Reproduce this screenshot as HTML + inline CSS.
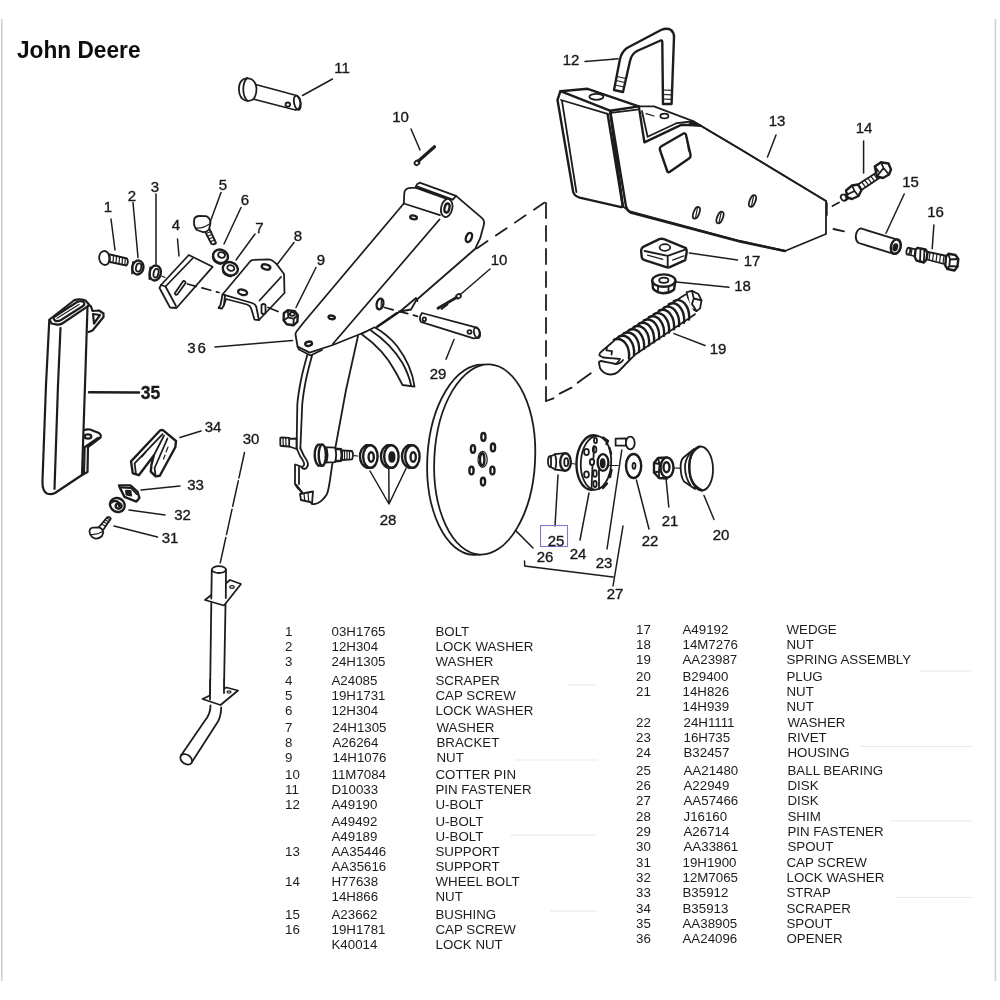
<!DOCTYPE html>
<html><head><meta charset="utf-8"><title>John Deere</title>
<style>
html,body{margin:0;padding:0;background:#fff;}
body{width:1000px;height:1000px;overflow:hidden;position:relative;font-family:"Liberation Sans",sans-serif;}
svg{position:absolute;left:0;top:0;}
.t text{font-family:"Liberation Sans",sans-serif;font-size:13.3px;fill:#1c1c1c;}
.l text{font-family:"Liberation Sans",sans-serif;font-size:15px;fill:#1a1a1a;text-anchor:middle;stroke:#1a1a1a;stroke-width:0.35;}
.d{fill:none;stroke:#1e1e1e;stroke-width:1.8;stroke-linecap:round;stroke-linejoin:round;}
.d .w{fill:#fff;}
.d .k{fill:#1e1e1e;}
.d .h{stroke-width:2.4;}
.d .n{stroke-width:1.2;}
.d .ds{stroke-dasharray:9 6;}
.ld{fill:none;stroke:#1e1e1e;stroke-width:1.5;stroke-linecap:round;}
</style></head><body>
<svg width="1000" height="1000" viewBox="0 0 1000 1000">
<rect x="0" y="0" width="1000" height="1000" fill="#fff"/>
<rect x="1" y="19" width="1.6" height="962" fill="#cfcfcf"/>
<rect x="994.6" y="19" width="1.6" height="962" fill="#cfcfcf"/>
<text filter="url(#b2)" x="17" y="57.6" font-family="Liberation Sans, sans-serif" font-weight="bold" font-size="24.4" fill="#111" textLength="123.5" lengthAdjust="spacingAndGlyphs">John Deere</text>
<defs><filter id="b" x="-2%" y="-2%" width="104%" height="104%"><feGaussianBlur stdDeviation="0.55"/></filter><filter id="b2" x="-2%" y="-2%" width="104%" height="104%"><feGaussianBlur stdDeviation="0.4"/></filter></defs>
<g filter="url(#b)">
<g class="d">
<!-- 35 spout -->
<g style="stroke-width:2.2">
<path d="M49.3,320 L46,385 L42.5,480 Q42,491 47,493.5 Q51,495 55,493 L82,475 L85,385 L87.5,306.5"/>
<path d="M49.5,319.5 L74.5,300 Q80,298.5 85.5,300.5 L89,304.5 L87.3,306.7 L63,323 Q60,325 57,324.6 L51.5,323.5 Z"/>
<path d="M60.5,328 L58,385 L54.5,489"/>
<path d="M54,317 L77,302 Q81,300.5 83.5,302 Q85.5,304 83,306 L61,320 Q57,322 55,320.5 Q53,319 54,317 Z"/>
<path class="n" d="M57,318.3 L79,304.5"/>
<path d="M89,305 L91,306.5 L92.5,311 L99,310.5 L103.5,313.5 L103.5,317 L92.5,330.5 L88.5,332"/>
<path d="M93,314 L100,315 L94,323.5 Z"/>
<path d="M84,430 Q87,429 90,429.5 L99,433 Q101.5,435 100.5,437.5 L88,447 L87.5,472 L82,475"/>
<path d="M85,447 L98,438 M84.6,448 L84,474"/>
<ellipse cx="88" cy="436.5" rx="3.3" ry="2.2"/>
<path class="h" d="M89,392.3 L139,392.5"/>
</g>
<!-- 1 bolt -->
<g>
<path d="M110,254.5 L127,258.5 Q129,262 126.5,265.5 L110,262"/>
<path class="n" d="M113.5,255.5 L113,262.5 M116.5,256 L116,263.3 M119.5,256.8 L119,264 M122.5,257.5 L122,264.6 M125.3,258.2 L124.8,265.2"/>
<ellipse class="w" cx="104.6" cy="258" rx="5.4" ry="7" transform="rotate(-8 104.6 258)"/>
<path class="n" d="M107.5,252.5 Q110.5,258 107.8,264"/>
</g>
<!-- 2 lock washer -->
<g>
<ellipse class="w h" cx="137.8" cy="267.5" rx="5.6" ry="7" transform="rotate(12 137.8 267.5)"/>
<ellipse cx="138.6" cy="267.5" rx="2.6" ry="4.2" transform="rotate(12 138.6 267.5)"/>
<path d="M133,262 L132,273.5"/>
</g>
<!-- 3 washer -->
<g>
<ellipse class="w h" cx="155.2" cy="273" rx="5.6" ry="7.6" transform="rotate(12 155.2 273)"/>
<ellipse cx="156" cy="273.2" rx="2.4" ry="4.4" transform="rotate(12 156 273.2)"/>
<path d="M150.2,267.5 L149.4,279"/>
<path class="n" d="M161.5,276 L165,277.5"/>
</g>
<!-- 4 scraper -->
<g>
<path class="w" d="M188.8,255 L212.6,266.8 L176.5,308 L170,307.5 L159.5,288 L161,285 Z"/>
<path d="M192.5,258.5 L165.5,286.5 L176,306"/>
<path d="M161,285 L165.5,286.5"/>
<path d="M183.3,281 Q185.6,280.8 185.6,283 L177.3,294.5 Q175.3,295.3 174.8,293.3 Z"/>
</g>
<!-- 5 cap screw -->
<g>
<path d="M204.5,230.5 L211.5,244 Q214,245 216,243 L209.5,229"/>
<path class="n" d="M206,233.5 L211,231.5 M207.4,236.3 L212.3,234.3 M208.8,239 L213.6,237 M210.2,241.7 L214.8,239.7"/>
<path class="w" d="M194,221 Q194,216.5 199,216 L206,216.2 Q210.5,218 210.5,223 L209,229.5 Q206.5,232.5 202.5,232 L197,230 Q193.5,226.5 194,221 Z"/>
<path class="n" d="M196,228 Q202,229 209.5,224"/>
</g>
<!-- 6 lock washer -->
<g>
<ellipse class="w h" cx="220.5" cy="256.3" rx="7.6" ry="6.6" transform="rotate(18 220.5 256.3)"/>
<ellipse cx="221.6" cy="255" rx="3.5" ry="2.7" transform="rotate(18 221.6 255)"/>
<path d="M213,254 L213.5,260 Q216,263.5 221,264"/>
</g>
<!-- 7 washer -->
<g>
<ellipse class="w h" cx="230.3" cy="268.8" rx="7.6" ry="6.6" transform="rotate(18 230.3 268.8)"/>
<ellipse cx="230.8" cy="268" rx="3.6" ry="2.8" transform="rotate(18 230.8 268)"/>
<path d="M222.8,267 L223.2,272.5 Q226,276 231,276.5"/>
</g>
<!-- dashed 4-8 -->
<path class="ds" d="M187.5,284 L219,292.5"/>
<!-- 8 bracket -->
<g>
<path class="w" d="M250.5,261 Q252,259.8 254,259.8 L269,259.3 Q272,259.5 276.5,264 L284,274 L284.5,293 L259,320 L254.5,319.6 L251,308 Q250,305.5 247,304.5 L226,299 L224,305 L222,308.5 L218.5,308 L220.5,305 L222.5,294.5 Z"/>
<path d="M222.5,294.5 L225,295.2 L252,303 Q255.5,304 256.3,307 L259,320"/>
<path d="M225,295.2 L224,305"/>
<path d="M281,277 L259.5,300.5"/>
<ellipse class="h" cx="266" cy="267" rx="4.4" ry="2.4" transform="rotate(15 266 267)"/>
<ellipse class="h" cx="242.6" cy="292.3" rx="4.6" ry="2.6" transform="rotate(15 242.6 292.3)"/>
<path class="w" d="M261.5,305 Q263.5,303 265.5,305 L265.5,313 Q263.5,315 261.5,313 Z"/>
</g>
<path d="M268,307.5 L278,311.5"/>
<!-- 9 nut -->
<g transform="translate(0.8 1.3) scale(1)">
<path class="w h" d="M283,312 L287,309 L294,310 L297,314 L296.5,320.5 L292.5,324 L286,323 L282.8,319 Z"/>
<path d="M287,309 L287.5,316 L283,319 M287.5,316 L293,317.5 L292.5,324 M293,317.5 L297,314"/>
<ellipse cx="291.5" cy="312.8" rx="2.6" ry="1.7"/>
</g>
<!-- 34 scraper (V) -->
<g>
<path class="w h" d="M160,430.5 Q161.6,429.6 163.2,430.4 L176,441 L175.4,447 L159.8,475.8 L155.6,476.4 L150.8,471.6 L151.4,465 L153.8,455.5 L138.8,475.2 L132.8,473.4 L131,461.4 Z"/>
<path d="M134.6,463.4 L162.6,434.2 M134.6,463.4 L136,474.2"/>
<path d="M153.8,455.5 L164,435.6"/>
<path d="M154.6,468 L167.5,438.5 M154.6,468 L155.6,476"/>
<path class="n" d="M146,452 L142,457 M168,447 L166,452 M165,455 L163.5,459"/>
</g>
<!-- 33 strap -->
<g>
<path class="w h" d="M119,485.4 L130.4,485.4 L137.6,492 L139.4,498 L136.4,501.6 L124.4,496.8 L120.2,488.4 Z"/>
<path class="k" d="M126,490.6 L130.6,491 L131.2,495.6 L126.4,494.6 Z"/>
<path d="M121.5,487.5 L131,488 L136.5,494"/>
</g>
<!-- 32 lock washer -->
<g>
<ellipse class="w h" cx="117.4" cy="505" rx="7.6" ry="6.8" transform="rotate(30 117.4 505)"/>
<ellipse class="h" cx="118.6" cy="506" rx="3" ry="2.7"/>
<path class="h" d="M111.5,502.5 Q113.5,500 117.5,501.5 Q120,503 119,506"/>
</g>
<!-- 31 cap screw -->
<g>
<path d="M99,527 L107,517.5 Q109.5,516 110.8,518.5 L103.5,529.5"/>
<path class="n" d="M101.5,524 L105.8,526.2 M103.3,521.8 L107.5,524 M105,519.8 L109,522 M106.6,518 L110.5,520"/>
<path class="w" d="M89.5,531.5 Q89.5,528 93,527.6 L99.5,527.5 Q103,529 103.3,532.5 L102,536 Q99,539 95,538.5 Q90,537 89.5,531.5 Z"/>
<path class="n" d="M90.5,534.5 Q96,535.5 102.8,531.5"/>
</g>
<!-- 30 spout tube -->
<g>
<path class="w" d="M205,600 L230,580 L241,584 L224,605.5 Z"/>
<ellipse class="n" cx="232" cy="587" rx="2.2" ry="1.4"/>
<path class="w" d="M211.8,570 L211.3,599 Q218,603 225.8,598.5 L226,570 Z" stroke="none"/>
<path d="M211.8,570 L211.3,598.5 M226,570 L225.8,598"/>
<ellipse class="w" cx="218.9" cy="569.6" rx="7.1" ry="3.4"/>
<path d="M211.3,603 L210,699 M225.5,604.5 L224,688"/>
<path class="w" d="M202.5,699 L226.5,687.5 L238,690.5 L220.5,705 Z"/>
<path class="w" d="M210.2,680 L210,700 L224,700 L224,680 Z" stroke="none"/>
<path d="M210.2,680 L210,699.5 M224,680 L224,693"/>
<ellipse class="n" cx="229" cy="692" rx="2" ry="1.2"/>
<path d="M210.5,705.5 Q210.5,714 205,720.5 L181,755.5 M221.2,707.5 Q221,716 218,721.5 L191.3,763"/>
<ellipse class="w" cx="186.2" cy="759.3" rx="6.4" ry="4.6" transform="rotate(35 186.2 759.3)"/>
</g>
<!-- 11 pin fastener -->
<g>
<path class="w" d="M252,83.5 L296.5,95.5 Q300.5,97 300.5,103 Q300,109.5 295.5,110 L251,98.5 Z"/>
<ellipse cx="297.3" cy="102.8" rx="3.2" ry="7.2" transform="rotate(-12 297.3 102.8)"/>
<ellipse cx="287.8" cy="104.6" rx="2.3" ry="2.1"/>
<path class="w" d="M243,79.5 Q247,77.5 251,79 Q255.5,81 256.5,88 Q256.5,96 253,99.5 Q249.5,101.5 245.5,100.5 Q239.5,98.5 239,90.5 Q238.5,82.5 243,79.5 Z"/>
<path d="M247,78 Q243,82 243.3,90.5 Q243.8,97.5 247.5,100.8"/>
</g>
<!-- 10 cotter pin (upper) -->
<g>
<path d="M418.5,161 L434.5,146.8" style="stroke-width:3.2"/>
<ellipse cx="417" cy="162.8" rx="2.6" ry="2.1" transform="rotate(-40 417 162.8)"/>
</g>
<!-- 36 opener arm -->
<g>
<path class="w" d="M295.4,334 L296.5,331.5 L304,322 L403.8,203.5 L404.3,193.1 Q404.8,189 408.7,188.2 L415.3,187.6 L417,184.3 L419.7,182.7 L456,195.9 L481.5,217.6 Q485,220.5 483.8,225 L480.2,238.2 L475.3,248.7 L416.4,300 L411,309.5 L400,311.5 L377,327 L359,334.5 L332.8,345 L309.7,352.6 L297.6,346.5 Z"/>
<path d="M439.5,219.5 L332.8,344"/>
<path d="M415.3,187.6 L446.1,198.6 M403.8,203.5 L440,215.1 M417.5,186.5 L452.8,199.6 L456,195.9"/>
<ellipse class="w" cx="446.7" cy="208" rx="5.6" ry="9.2" transform="rotate(12 446.7 208)"/>
<ellipse class="h" cx="447" cy="208" rx="2.4" ry="4.6" transform="rotate(12 447 208)"/>
<ellipse class="h" cx="413.7" cy="217.3" rx="3.4" ry="1.8" transform="rotate(12 413.3 216.6)"/>
<ellipse class="h" cx="469" cy="237" rx="2.8" ry="4.8" transform="rotate(22 467.8 237)"/>
<ellipse class="h" cx="380" cy="304" rx="3.3" ry="5.4" transform="rotate(12 380 304)"/>
<path class="n" d="M381.5,299.5 L381,308.5"/>
<ellipse class="h" cx="331.7" cy="317.4" rx="3.2" ry="1.7" transform="rotate(12 331.7 317.4)"/>
<ellipse class="h" cx="308.6" cy="343.8" rx="3.4" ry="2.1" transform="rotate(-12 308.6 343.8)"/>
<path d="M297.6,346.5 L299,349.5 L310.5,355.5 L322,350"/>
<path class="h" d="M377.5,326.5 L397,313"/>
<path d="M400,311.5 L416,298 L417.5,301"/>
</g>
<!-- rod below opener -->
<path d="M307.3,355 Q302.5,372 301,380 Q298,395 297.3,405 L296.6,448 M312.2,355 Q307.5,372 305.9,380 Q303,395 302.2,405 L300.4,448"/>
<path d="M358,336 L346,390 L332,466 L330,480 Q328.5,490 327,494 Q323,500.5 318,503 Q314.5,504.5 312,504"/>
<!-- hook -->
<path d="M300.2,448 L304,456 Q308,461.5 308,464.5 Q307.5,468 304.5,469 Q302,468.5 301,466.5 L295.3,464.5"/>
<path d="M296.5,448 L300,456 Q304,461.5 304.2,464 Q304.2,466 302.5,466.5"/>
<path d="M295,464.8 L295,484 L298,488.5 M299,467 L299,484"/>
<path class="h" d="M296,485 L302,492.5"/>
<path class="w" d="M300,494 L313,491.5 L312,503.5 L310,502 L301,500 Z"/>
<path class="n" d="M304,493.5 L304.7,500.5 M308,492.8 L308.7,501.5"/>
<!-- small stub -->
<path class="w" d="M280.3,438.3 Q280,437.5 281.5,437.5 L289,437.8 L289.3,438.8 L296.5,438.5 L296.5,449 L289.3,446.5 L281.5,446 Q280.3,446 280.3,445 Z"/>
<path d="M289.2,437.8 L289.2,446.5"/>
<path class="n" d="M283,438 L283.3,445.8 M285.8,438 L286,446"/>
<!-- curved blade -->
<g>
<path class="w" d="M361.4,334 Q384,350 395,371 Q400,380 402.5,385 L414.5,386.7 Q412,366 397,346 Q388,335 374.6,327.3 Z"/>
<path d="M371,330.5 Q391,344 402.5,363 Q409,375 411.3,386.2"/>
</g>
<!-- 10 cotter pin lower -->
<g>
<path d="M438,308.3 L456.5,297.5" style="stroke-width:2.8"/><path d="M441.5,309 L447.5,304.5"/>
<ellipse cx="458.5" cy="296.3" rx="2.5" ry="2" transform="rotate(-30 458.5 296.3)"/>
</g>
<!-- 29 pin -->
<g>
<path class="ds" d="M384.5,307.5 L417.5,316.3"/>
<path class="w" d="M422,313 L475.8,327.3 Q480,329 479.6,333.5 Q479,338.5 473.6,338.3 L420.8,321.8 Q418.5,318 422,313 Z"/>
<ellipse cx="477" cy="332.8" rx="2.9" ry="5.4" transform="rotate(-15 477 332.8)"/>
<ellipse cx="424.3" cy="319.3" rx="1.7" ry="1.9"/>
<ellipse cx="469.5" cy="332" rx="2" ry="1.9"/>
</g>
<!-- spindle -->
<g>
<path class="w" d="M342,450.3 L352,451 Q354,455 352,459.3 L342,460 Z"/>
<path class="n" d="M344.5,450.6 L344.5,459.8 M347,450.8 L347,459.6 M349.5,451 L349.5,459.4"/>
<path class="w h" d="M335,448.8 L341,449.3 Q342.6,455 341,460.8 L335,461.3 Z"/>
<path class="w" d="M324,447.2 L335,447.6 Q337.3,455 335,462.2 L324,462.6 Z"/>
<path class="w h" d="M318,444.6 Q314.6,448 314.7,455 Q314.8,462 318.3,465.6 L322.5,465.6 L322.5,444.6 Z"/>
<ellipse class="w h" cx="322.3" cy="455.1" rx="3.6" ry="10.5"/>
<path d="M326.5,448 Q328.5,455 326.5,462"/>
<path class="n" d="M354.5,455.7 L357.5,456"/>
</g>
<!-- 28 shims -->
<g>
<path class="w h" d="M366.1,445.2 Q360.0,448.5 360.0,456.5 Q360.20000000000005,464.5 366.6,467.8 L370.6,467.8 L370.6,445.2 Z"/>
<ellipse class="w h" cx="370.40000000000003" cy="456.5" rx="7.2" ry="11.3"/>
<ellipse class="h" cx="371.20000000000005" cy="457" rx="2.6" ry="4.8"/>
<path class="w h" d="M387.1,445.2 Q381.0,448.5 381.0,456.5 Q381.20000000000005,464.5 387.6,467.8 L391.6,467.8 L391.6,445.2 Z"/>
<ellipse class="w h" cx="391.40000000000003" cy="456.5" rx="7.2" ry="11.3"/>
<ellipse class="k" cx="391.90000000000003" cy="457" rx="2.7" ry="4.9"/>
<path class="w h" d="M408.1,445.2 Q402.0,448.5 402.0,456.5 Q402.20000000000005,464.5 408.6,467.8 L412.6,467.8 L412.6,445.2 Z"/>
<ellipse class="w h" cx="412.40000000000003" cy="456.5" rx="7.2" ry="11.3"/>
<ellipse class="h" cx="413.20000000000005" cy="457" rx="2.6" ry="4.8"/>
</g>
<!-- 26 disk -->
<g>
<ellipse cx="478.3" cy="459.8" rx="51" ry="95.2" transform="rotate(3 478.3 459.8)"/>
<ellipse class="w" cx="484.7" cy="459.5" rx="50.4" ry="95.2" transform="rotate(3 484.7 459.5)"/>
<ellipse class="n" cx="482.6" cy="459.4" rx="4.6" ry="8"/>
<ellipse class="h" cx="482.2" cy="459.4" rx="2.2" ry="6.2"/>
<g class="h">
<ellipse cx="483.4" cy="436.9" rx="2.1" ry="3.9"/>
<ellipse cx="493" cy="447.4" rx="2.1" ry="3.9"/>
<ellipse cx="492.4" cy="470.5" rx="2.1" ry="3.9"/>
<ellipse cx="483" cy="481.6" rx="2.1" ry="3.9"/>
<ellipse cx="471.5" cy="470.5" rx="2.1" ry="3.9"/>
<ellipse cx="473" cy="449" rx="2.1" ry="3.9"/>
</g>
</g>
<!-- 25 ball bearing -->
<g>
<ellipse class="w" cx="550.6" cy="461.5" rx="2.6" ry="5.5"/>
<path class="w" d="M551,456.2 L555,454.2 L565,453.2 L565,470.8 L555,469.5 L551,467 Z"/>
<path d="M555,454.2 Q557.5,461.8 555,469.5"/>
<ellipse class="w h" cx="565.5" cy="462" rx="5.3" ry="8.8"/>
<ellipse cx="566.2" cy="462.2" rx="2" ry="4"/>
<path class="n" d="M571,463.5 L575.5,464"/>
</g>
<!-- 24 housing -->
<g>
<ellipse class="w h" cx="592.5" cy="462.5" rx="16" ry="27.3" transform="rotate(3 592.5 462.5)"/>
<ellipse class="w" cx="596" cy="462.8" rx="15.2" ry="26.8" transform="rotate(3 596 462.8)"/>
<path class="h" d="M603,437.5 L608,441 L606.5,444 M609.5,448 L611,453.5 M611.5,470 L610,477 M607,483.5 L603,488"/>
<ellipse class="w h" cx="603" cy="462.5" rx="5.4" ry="8.4"/>
<ellipse class="k" cx="602.7" cy="463.3" rx="2" ry="4.2"/>
<ellipse cx="586.5" cy="452" rx="2.4" ry="3.2"/>
<ellipse cx="586.5" cy="474.5" rx="2.4" ry="3.2"/>
<ellipse cx="592" cy="462" rx="2.2" ry="3"/>
<ellipse cx="594.6" cy="449.5" rx="1.8" ry="3.2"/>
<ellipse cx="595" cy="473.5" rx="1.8" ry="3.4"/>
<ellipse cx="595" cy="484" rx="1.7" ry="3"/>
<ellipse cx="595.5" cy="440.5" rx="1.5" ry="2.6"/>
<path d="M592.5,466 L591.5,489 M599,470 L599,489 M594,446 L593.5,458"/>
<path class="n" d="M609,465.5 L618,465.5"/>
</g>
<!-- 23 rivet -->
<g>
<path class="w" d="M615.6,438.6 L626,438.3 L626,445.6 L615.6,445.6 Z"/>
<ellipse class="w" cx="630.3" cy="443" rx="4.4" ry="6.4"/>
</g>
<!-- 22 washer -->
<g>
<ellipse class="w h" cx="633.6" cy="466" rx="7.6" ry="12"/>
<ellipse cx="634" cy="465.8" rx="1.5" ry="3"/>
</g>
<!-- 21 nut -->
<g>
<path class="w h" d="M654,463 L658,458 L667,457.5 L667,478.5 L659,478 L654,472.5 Z"/>
<path d="M658,458 L659.5,464 L659,471.5 L659,478 M654,463 L659.5,464 M654,472.5 L659,471.5"/>
<ellipse class="w h" cx="667" cy="467.6" rx="6.5" ry="10"/>
<ellipse class="h" cx="666.5" cy="467.2" rx="3" ry="5"/>
<path class="n" d="M674,468 L679.5,468.2"/>
</g>
<!-- 20 plug -->
<g>
<path class="w" d="M694,449 L683.5,457.5 Q680.6,460.5 680.6,467 Q680.8,477 684,481.5 L695,489 Z"/>
<path d="M690,453.5 Q685,459.5 685,467.5 Q685.3,478 690.5,485"/>
<ellipse class="w" cx="701.2" cy="468.5" rx="11.8" ry="22" transform="rotate(-2 701.2 468.5)"/>
<path class="h" d="M699,446.8 Q688.5,452 689.3,469 Q690,485 702,490.3"/>
</g>
<!-- 12 u-bolt -->
<g>
<path class="w h" d="M614,90 L620,59 Q621.5,52 627,48 L661,30 Q667,27.5 671,30 Q674,32.5 674,37 L671.6,104 L663,104 L662.3,42 Q662,39.5 659.5,41 L637,51 Q631.5,54 630,61 L623,92 Z"/>
<path class="n" d="M615,85 L624,87 M616,80.5 L625,82.5 M616.8,76.5 L625.8,78.5 M663,99 L671.8,99.3 M663,94.5 L672,94.8 M662.8,90 L672.2,90.3"/>
</g>
<!-- 13 support -->
<g>
<!-- big side face -->
<path class="w" d="M610,111 L638.8,106.4 L641.2,106.4 L654,106.4 L692.4,120.8 L700.4,125.6 L740,149 L826,201 L826,234 L785,251 L740,241 L629,211 L622.8,206.4 Z"/>
<!-- left box face -->
<path class="w h" d="M557.5,100 L560.4,91.2 L587.6,88.8 L638.8,106.4 L610,110.6 L622.8,206.4 L621.2,207.2 L579.6,197.6 Q574.5,196 573.2,192 Z"/>
<path class="h" d="M560.4,91.2 L610,110.6"/>
<path d="M561,100 L607.6,113.8 M562,100.8 L576.4,192"/>
<path class="h" d="M607.6,114 L622.8,206.4"/>
<path class="h" d="M610.5,112.5 L626,206.4 Q627,210.5 630.5,212.5 L740,241.5 L785,251"/>
<path d="M610.8,112.8 L637.2,109.6"/>
<ellipse cx="596.4" cy="96.8" rx="7" ry="3"/>
<!-- V notch -->
<path class="h" d="M638.8,106.4 L644.4,142.4 L681.2,124.8 L700.4,125.6"/>
<path d="M642,111.2 L647.6,136.8 L676.4,123.2 L692,121.5"/>
<path class="k" d="M692.4,120.8 L700.8,125.8 L689,124.5 Z"/>
<path d="M700.4,125.6 L740,149 L826,201"/>
<ellipse cx="664.4" cy="116" rx="4" ry="2.4"/>
<path class="n" d="M646,113.6 L654,116"/>
<!-- window -->
<path class="h" d="M661,146.5 L683.5,133.5 Q685.5,132.8 686,135 L690.6,155 Q690.8,157.3 689,158.4 L669.5,172 Q667.8,172.8 667.2,171 L659.8,149.5 Q659.6,147.4 661,146.5 Z"/>
<path class="n" d="M686.3,135.5 L688.6,151"/>
<ellipse cx="696.4" cy="212.8" rx="2.8" ry="6.2" transform="rotate(22 696.4 212.8)"/>
<ellipse cx="720" cy="217.5" rx="2.8" ry="6.2" transform="rotate(22 720 217.5)"/>
<ellipse cx="752.5" cy="201" rx="2.8" ry="6.2" transform="rotate(22 752.5 201)"/>
<path class="n" d="M697.5,207.5 L695.5,218 M721.2,212.3 L719,222.7 M753.6,195.7 L751.5,206.3"/>
</g>
<!-- dashed to 14/15 -->
<path d="M832.5,206 L839,202.5 M833.5,229 L844,231.4"/>
<path d="M826.8,203 L826.8,215"/>
<!-- 14 wheel bolt -->
<g>
<path d="M858,184.5 L876.5,172.5 L880,177.5 L861.5,190"/>
<path class="n" d="M862,182.3 L865.5,187.2 M865,180.3 L868.5,185.2 M868,178.3 L871.5,183.2 M871,176.3 L874.5,181.2 M874,174.3 L877.5,179.2"/>
<path class="w h" d="M874.8,166.5 L881,162.3 L888.5,163.5 L891,169.5 L889,174.5 L883,178 L877,176.5 Z"/>
<path d="M881,162.3 L883.5,168 L889,174.5 M883.5,168 L877,176.5 M878.5,171.5 L874.8,166.5"/>
<path class="w h" d="M846,190.5 L852,185.5 L858,184.5 L861.5,190 L858.5,196 L852,199 L847.5,197.5 Z"/>
<path d="M852,185.5 L854.5,191 L858.5,196 M854.5,191 L848.5,194"/>
<ellipse class="w" cx="843.6" cy="197.6" rx="2.6" ry="3.2" transform="rotate(-30 843.6 197.6)"/>
<path d="M845.5,195 L848,193.5 M845.5,200.4 L848.3,198.5"/>
</g>
<!-- 15 bushing -->
<g>
<path class="w" d="M860.8,228.4 L897.2,239.6 Q901.5,242.5 900.5,248 Q899,254 893,253.6 L858.7,243 Q855,240.5 856,234.5 Q857.5,229 860.8,228.4 Z"/>
<ellipse class="h" cx="895.8" cy="246.6" rx="4.8" ry="7.4" transform="rotate(15 895.8 246.6)"/>
<ellipse class="k" cx="895.3" cy="247.3" rx="1.9" ry="3.3" transform="rotate(15 895.3 247.3)"/>
</g>
<!-- 16 cap screw -->
<g>
<path d="M909,247.8 L947,256 L946,264.5 L908,254.5"/>
<path class="n" d="M912,248.5 L911,255.3 M930,252.5 L929,260 M933.5,253.2 L932.5,261 M937,254 L936,261.8 M940.5,254.8 L939.5,262.7 M944,255.5 L943,263.6"/>
<ellipse class="w" cx="908.3" cy="251.2" rx="1.8" ry="3.5" transform="rotate(12 908.3 251.2)"/>
<path class="w h" d="M915.5,250 L917.5,247.8 L925.5,249.5 L927.5,252.5 L926.5,259.5 L924,262.5 L916.5,260.5 L914.8,257 Z"/>
<path d="M920.5,248.5 L920,261.5 M924.5,249.5 L923.8,262.3"/>
<path class="w h" d="M946,256.5 L948.5,253.8 L955.5,255 L958.3,259 L957.5,266.5 L954.5,270.5 L947.5,269 L945.3,265.5 Z"/>
<path d="M948.5,253.8 L950,259.5 L949.3,266 L947.5,269 M950,259.5 L958.3,259 M949.3,266 L957.5,266.5"/>
</g>
<!-- 17 wedge -->
<g>
<path class="w h" d="M641.1,251 Q641.5,248 643.2,246.8 L659.3,239.1 Q661.5,238.5 664,239.1 L685.9,248.2 Q687,250 686.6,253.1 L685.2,260.1 L669.8,267.1 Q668,267.8 666.3,267.1 L644.6,260.1 Q642,259 641.8,257.3 Z"/>
<path d="M644.6,251 L667.7,255.9 L685.2,249.6 M667.7,255.9 L667.7,266.4"/>
<path class="n" d="M647.4,255.2 L662.8,259.4 M672.6,260.1 L683.8,255.9"/>
<ellipse cx="664.9" cy="247.5" rx="5.3" ry="3.3"/>
</g>
<!-- 18 nut -->
<g>
<path class="w h" d="M652.3,281 L653,288.5 Q656,292.5 662.8,293.2 Q670,293 674,289.5 L675.4,281 Z"/>
<ellipse class="w h" cx="663.8" cy="280.6" rx="11.6" ry="6.2"/>
<ellipse cx="663.8" cy="280.2" rx="4.6" ry="2.6"/>
<path d="M658,286.3 L658,292.5 M668.5,286.5 L668.5,292.7"/>
</g>
<!-- 19 spring -->
<g>
<path class="w" d="M686.6,292.2 L692,290.9 L698.3,294 L701.5,300.3 L700.1,308.4 L696.5,311.1 L690,308 Z"/>
<path d="M692,290.9 L693.8,298.5 L701.5,300.3 M693.8,298.5 L692,303.9 L696.5,311.1"/>
<!-- clevis end -->
<path class="w" d="M619.5,336.2 L601.5,351.5 Q599,353.5 599.5,355.5 L603,357.5 L620,359 Q619,361.5 616,364 L601,361 Q598.5,361.5 599,363 L600,368 Q603,374 610,374.5 Q615,374.5 618,372 L634.5,355 Q636,345 628,337 Z"/>
<path d="M607,347 L606.5,350.3 L612,351.2 L611.5,354.5"/>
<path d="M616,364 Q621,363.5 623,360"/>
<path class="w" d="M685.5,294.5 L613.8,339.9 L629,358.5 L695,314 Z" stroke="none"/>
<path d="M685.5,294.5 L613.8,339.9 M634.5,355 L695,314.3"/>
<g style="stroke-width:2.4">
<path d="M613.8,339.9 C622.8,336.1 630.2,346.0 629.0,358.5"/>
<path d="M618.8,336.7 C627.8,332.9 635.2,342.8 634.0,355.3"/>
<path d="M623.8,333.4 C632.8,329.6 640.2,339.5 639.0,352.0"/>
<path d="M628.8,330.2 C637.8,326.4 645.2,336.3 644.0,348.8"/>
<path d="M633.8,326.9 C642.8,323.1 650.2,333.0 649.0,345.5"/>
<path d="M638.8,323.7 C647.8,319.9 655.2,329.8 654.0,342.3"/>
<path d="M643.8,320.4 C652.8,316.6 660.2,326.5 659.0,339.0"/>
<path d="M648.8,317.2 C657.8,313.4 665.2,323.3 664.0,335.8"/>
<path d="M653.8,314.0 C662.8,310.2 670.2,320.1 669.0,332.6"/>
<path d="M658.8,310.7 C667.8,306.9 675.2,316.8 674.0,329.3"/>
<path d="M663.8,307.5 C672.8,303.7 680.2,313.6 679.0,326.1"/>
<path d="M668.8,304.2 C677.8,300.4 685.2,310.3 684.0,322.8"/>
<path d="M673.8,301.0 C682.8,297.2 690.2,307.1 689.0,319.6"/>
</g>
</g>
<!-- dashed box lines -->
<g>
<path d="M476.8,248.4 L544.5,202.6" style="stroke-dasharray:13 10"/>
<path d="M546,203 L546,401" style="stroke-dasharray:15 8"/>
<path d="M546,401 L553.5,398.3 M559.6,393.6 L571.6,387.6 M577.6,382.8 L590.8,373.2"/>
</g>

</g>
<g class="ld">
<path d="M111,219 L115,250 M133,202.5 L138,257.5 M156,194 L156,264 M177.5,239 L179,256 M221,192.5 L210,222.5 M241,207.5 L224,244 M255,234 L236,260 M294,242.5 L277.5,264 M316,267.5 L296,307.5 M411,129 L420,150 M490,269 L461,294 M332.5,79 L302.5,95.5 M585,61.5 L618,58.8 M776,135 L767.5,157 M863.6,141 L863.6,173 M904.2,194 L886,233.3 M933.9,224.9 L932.2,248.7 M689.4,253.1 L737.5,260 M676.1,282.1 L729,287.3 M674,333.6 L705,345.5 M704,495.5 L714,519.5 M666,478.5 L668.8,507 M636.4,480 L649,529 M621.8,450 L607,549 M589,493 L580,540 M558,475 L555,526 M515.5,530.4 L533,548 M389,504 L370,471 M389,504 L388.8,468.5 M389,504 L406,468.5 M454,339.5 L446,359.2 M114,526 L157.5,537 M129,510 L165,515 M141,490 L180,486 M180,437.5 L201,431 M215,347 L292.5,340.5"/>
<path d="M244.5,452.5 L220,564" stroke-dasharray="26 3"/>
<path d="M524.5,561 L524.8,566 L613,577 M623,526 L613,586"/>
<rect x="540.5" y="525.5" width="27" height="21" stroke="#7a7ad2" stroke-width="1.1"/>
</g>
<g class="l">
<text x="108" y="212.3">1</text>
<text x="132" y="201.3">2</text>
<text x="155" y="192.3">3</text>
<text x="176" y="230.3">4</text>
<text x="223" y="190.3">5</text>
<text x="245" y="205.3">6</text>
<text x="259.5" y="232.8">7</text>
<text x="298" y="241.3">8</text>
<text x="321" y="264.8">9</text>
<text x="400.5" y="122.3">10</text>
<text x="499" y="265.3">10</text>
<text x="342" y="73.3">11</text>
<text x="571" y="64.8">12</text>
<text x="777" y="126.3">13</text>
<text x="864" y="133.3">14</text>
<text x="910.5" y="186.8">15</text>
<text x="935.5" y="217.3">16</text>
<text x="752" y="266.3">17</text>
<text x="742.5" y="291.3">18</text>
<text x="718" y="354.3">19</text>
<text x="721" y="540.3">20</text>
<text x="670" y="526.3">21</text>
<text x="650" y="546.3">22</text>
<text x="604" y="568.3">23</text>
<text x="578" y="559.3">24</text>
<text x="556" y="546.3">25</text>
<text x="545" y="562.3">26</text>
<text x="615" y="599.3">27</text>
<text x="388" y="524.8">28</text>
<text x="438" y="378.8">29</text>
<text x="251" y="444.3">30</text>
<text x="170" y="543.3">31</text>
<text x="182.5" y="520.3">32</text>
<text x="195.5" y="490.3">33</text>
<text x="213" y="432.3">34</text>
<text x="197.5" y="353.4" style="letter-spacing:2px">36</text>
<text x="150.5" y="399" style="font-weight:bold;font-size:17.5px">35</text>
</g>
</g>
<path d="M920,671 H972.5 M860,746.5 H972.5 M890,821 H972.5 M895,897.5 H972.5 M567.5,685 H597.5 M515,760 H597.5 M510,835 H597.5 M550,911 H597.5" stroke="#e9e9e9" stroke-width="1" fill="none"/>
<g class="t" filter="url(#b2)">
<text x="285" y="636.3">1</text><text x="331.5" y="636.3">03H1765</text><text x="435.5" y="636.3">BOLT</text>
<text x="285" y="651.3">2</text><text x="331.5" y="651.3">12H304</text><text x="435.5" y="651.3">LOCK WASHER</text>
<text x="285" y="666.3">3</text><text x="331.5" y="666.3">24H1305</text><text x="435.5" y="666.3">WASHER</text>
<text x="285" y="684.8">4</text><text x="331.5" y="684.8">A24085</text><text x="435.5" y="684.8">SCRAPER</text>
<text x="285" y="699.8">5</text><text x="331.5" y="699.8">19H1731</text><text x="435.5" y="699.8">CAP SCREW</text>
<text x="285" y="714.8">6</text><text x="331.5" y="714.8">12H304</text><text x="435.5" y="714.8">LOCK WASHER</text>
<text x="285" y="732.3">7</text><text x="332.5" y="732.3">24H1305</text><text x="436.5" y="732.3">WASHER</text>
<text x="285" y="747.3">8</text><text x="332.5" y="747.3">A26264</text><text x="436.5" y="747.3">BRACKET</text>
<text x="285" y="762.3">9</text><text x="332.5" y="762.3">14H1076</text><text x="436.5" y="762.3">NUT</text>
<text x="285" y="778.8">10</text><text x="331.5" y="778.8">11M7084</text><text x="435.5" y="778.8">COTTER PIN</text>
<text x="285" y="793.8">11</text><text x="331.5" y="793.8">D10033</text><text x="435.5" y="793.8">PIN FASTENER</text>
<text x="285" y="808.8">12</text><text x="331.5" y="808.8">A49190</text><text x="435.5" y="808.8">U-BOLT</text>
<text x="331.5" y="825.8">A49492</text><text x="435.5" y="825.8">U-BOLT</text>
<text x="331.5" y="840.8">A49189</text><text x="435.5" y="840.8">U-BOLT</text>
<text x="285" y="856.3">13</text><text x="331.5" y="856.3">AA35446</text><text x="435.5" y="856.3">SUPPORT</text>
<text x="331.5" y="871.3">AA35616</text><text x="435.5" y="871.3">SUPPORT</text>
<text x="285" y="886.3">14</text><text x="331.5" y="886.3">H77638</text><text x="435.5" y="886.3">WHEEL BOLT</text>
<text x="331.5" y="901.3">14H866</text><text x="435.5" y="901.3">NUT</text>
<text x="285" y="918.8">15</text><text x="331.5" y="918.8">A23662</text><text x="435.5" y="918.8">BUSHING</text>
<text x="285" y="933.8">16</text><text x="331.5" y="933.8">19H1781</text><text x="435.5" y="933.8">CAP SCREW</text>
<text x="331.5" y="948.8">K40014</text><text x="435.5" y="948.8">LOCK NUT</text>
<text x="636" y="633.8">17</text><text x="682.5" y="633.8">A49192</text><text x="786.5" y="633.8">WEDGE</text>
<text x="636" y="648.8">18</text><text x="682.5" y="648.8">14M7276</text><text x="786.5" y="648.8">NUT</text>
<text x="636" y="663.8">19</text><text x="682.5" y="663.8">AA23987</text><text x="786.5" y="663.8">SPRING ASSEMBLY</text>
<text x="636" y="680.8">20</text><text x="682.5" y="680.8">B29400</text><text x="786.5" y="680.8">PLUG</text>
<text x="636" y="695.8">21</text><text x="682.5" y="695.8">14H826</text><text x="786.5" y="695.8">NUT</text>
<text x="682.5" y="710.8">14H939</text><text x="786.5" y="710.8">NUT</text>
<text x="636" y="726.8">22</text><text x="683.5" y="726.8">24H1111</text><text x="787.5" y="726.8">WASHER</text>
<text x="636" y="741.8">23</text><text x="683.5" y="741.8">16H735</text><text x="787.5" y="741.8">RIVET</text>
<text x="636" y="756.8">24</text><text x="683.5" y="756.8">B32457</text><text x="787.5" y="756.8">HOUSING</text>
<text x="636" y="774.8">25</text><text x="683.5" y="774.8">AA21480</text><text x="787.5" y="774.8">BALL BEARING</text>
<text x="636" y="789.8">26</text><text x="683.5" y="789.8">A22949</text><text x="787.5" y="789.8">DISK</text>
<text x="636" y="804.8">27</text><text x="683.5" y="804.8">AA57466</text><text x="787.5" y="804.8">DISK</text>
<text x="636" y="820.8">28</text><text x="683.5" y="820.8">J16160</text><text x="787.5" y="820.8">SHIM</text>
<text x="636" y="835.8">29</text><text x="683.5" y="835.8">A26714</text><text x="787.5" y="835.8">PIN FASTENER</text>
<text x="636" y="850.8">30</text><text x="683.5" y="850.8">AA33861</text><text x="787.5" y="850.8">SPOUT</text>
<text x="636" y="866.8">31</text><text x="682.5" y="866.8">19H1900</text><text x="786.5" y="866.8">CAP SCREW</text>
<text x="636" y="881.8">32</text><text x="682.5" y="881.8">12M7065</text><text x="786.5" y="881.8">LOCK WASHER</text>
<text x="636" y="896.8">33</text><text x="682.5" y="896.8">B35912</text><text x="786.5" y="896.8">STRAP</text>
<text x="636" y="913.3">34</text><text x="682.5" y="913.3">B35913</text><text x="786.5" y="913.3">SCRAPER</text>
<text x="636" y="928.3">35</text><text x="682.5" y="928.3">AA38905</text><text x="786.5" y="928.3">SPOUT</text>
<text x="636" y="943.3">36</text><text x="682.5" y="943.3">AA24096</text><text x="786.5" y="943.3">OPENER</text>
</g>
</svg>
</body></html>
